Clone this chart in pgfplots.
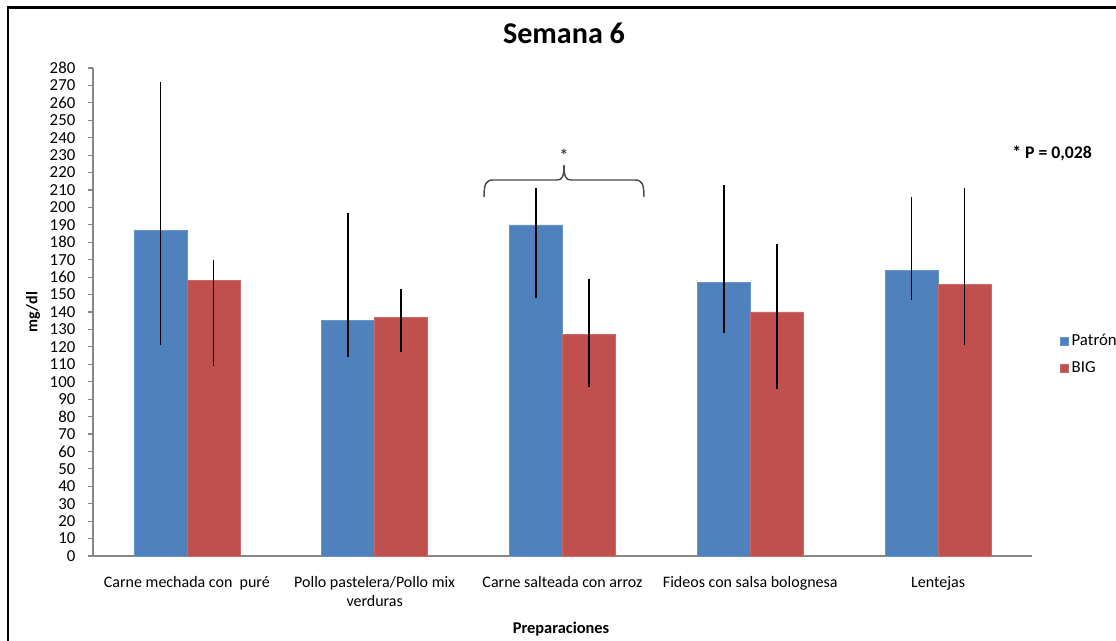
\documentclass[border=0pt]{standalone}
\usepackage{pgfplots}
\pgfplotsset{compat=1.18}
\usepackage{fontspec}
\setmainfont{Carlito}
\definecolor{cblue}{HTML}{4F81BD}
\definecolor{cred}{HTML}{C0504D}
\definecolor{axgray}{HTML}{868686}
\begin{document}
\begin{tikzpicture}
\useasboundingbox (0,0) rectangle (837pt,480.75pt);
% frame
\draw[line width=1.9pt, black] (6pt,-5pt) -- (6pt,475.1pt) -- (845pt,475.1pt);
\begin{axis}[
  at={(69.75pt,63.75pt)}, anchor=south west,
  scale only axis, width=704.25pt, height=366pt,
  xmin=-0.5, xmax=4.5, ymin=0, ymax=280,
  axis x line=bottom, axis y line=left,
  axis line style={-, draw=axgray, line width=0.8pt},
  ybar=0pt, bar width=39.75pt,
  xtick={0,1,2,3,4},
  xticklabels={Carne mechada con\ \ puré, {Pollo pastelera/Pollo mix\\verduras}, Carne salteada con arroz, Fideos con salsa bolognesa, Lentejas},
  xticklabel style={align=center, font=\fontsize{12}{14.5}\selectfont, yshift=-8pt, text depth=0pt},
  xtick style={draw=none},
  ytick distance=10,
  yticklabel style={font=\fontsize{12.6}{14}\selectfont, xshift=-6pt},
  ytick style={draw=axgray, line width=0.8pt},
  tick align=outside, major tick length=3.75pt,
  /pgf/number format/assume math mode=true,
  legend style={at={(1.03,0.413)}, anchor=west, draw=none, fill=none,
    font=\fontsize{12.6}{14}\selectfont, row sep=6.5pt, inner sep=0pt},
  legend cell align=left,
  legend image code/.code={\fill[#1] (0pt,-3pt) rectangle (6pt,3pt);},
  error bars/error bar style={black, line width=1.1pt},
  clip=false,
]
\addplot+[fill=cblue, draw=cblue!85!white, line width=0.4pt,
  error bars/.cd, y dir=both, y explicit, error mark=none]
  coordinates {
  (0,187) += (0,85) -= (0,66)
  (1,135) += (0,62) -= (0,21)
  (2,190) += (0,21) -= (0,42)
  (3,157) += (0,56) -= (0,29)
  (4,164) += (0,42) -= (0,17)
  };
\addplot+[fill=cred, draw=cred!85!white, line width=0.4pt,
  error bars/.cd, y dir=both, y explicit, error mark=none]
  coordinates {
  (0,158) += (0,12) -= (0,49)
  (1,137) += (0,16) -= (0,20)
  (2,127) += (0,32) -= (0,30)
  (3,140) += (0,39) -= (0,44)
  (4,156) += (0,55) -= (0,35)
  };
\legend{Patrón, BIG}
\end{axis}
\begin{scope}[x=0.75pt, y=-0.75pt, shift={(0,480.75pt)}]
\draw[draw=black!70, line width=1.1pt]
  (484,197) .. controls (484,184) and (486,180) .. (493,180) -- (557,180)
  .. controls (562,180) and (564,177) .. (564,165)
  .. controls (564,177) and (566,180) .. (571,180) -- (635,180)
  .. controls (642,180) and (644,184) .. (644,197);
\node[font=\fontsize{22.6}{26}\selectfont\bfseries] at (564,33) {Semana 6};
\node[font=\fontsize{12}{14}\selectfont\bfseries, rotate=90] at (33,312) {mg/dl};
\node[font=\fontsize{12.3}{14}\selectfont\bfseries] at (561,629) {Preparaciones};
\node[font=\fontsize{13.3}{15}\selectfont\bfseries, anchor=west, inner sep=0pt] at (1012,153) {* P = 0,028};
\node[font=\fontsize{13}{15}\selectfont\bfseries, text=black!75] at (564,155) {*};
\end{scope}
\end{tikzpicture}
\end{document}
